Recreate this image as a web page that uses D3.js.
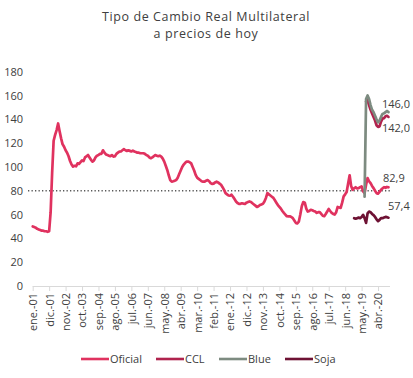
<!DOCTYPE html>
<html><head><meta charset="utf-8">
<script src="https://cdn.jsdelivr.net/npm/d3@7"></script>
<style>
body{margin:0;background:#fff;}
svg{display:block;font-family:"Open Sans",sans-serif;}
</style></head>
<body><svg id="c" width="413" height="378"></svg>
<script>
// Monthly series starting ene-01 (index 0 = Jan 2001)
const startYear = 2001;
const oficial = [50,49.5,49,48,47.5,47,46.5,46.5,46,46,45.5,46,
62,95,122,127,131,136.5,130,124,119,117,114,112,
109,105,102,100.3,101,100.5,103,102.5,104,105.5,105,108,
109,110,108,106,104.5,105.5,108,109.5,110,111,111,114,
112,110.5,110,109.5,109,110,108.7,109,111,112,112.9,113,
114,114.9,114,113.5,114,113.5,113,113.7,113,112.5,112,112,
111.5,111.5,111.5,111,110,109.5,108,107.3,108,109,110,109.5,
109,109.5,108.7,107,104.5,101,97.5,93,89,87.6,88,88.5,
89,91,94,97,100,102,103.5,104.5,104.5,104,103,100,
97,93.3,91,90,89,88,87.6,87.6,88.5,89,88,86.5,
85.7,86,87,87.6,87,86,85,83,80.7,78,77,76,
75.8,76.7,75,73,71,69.7,69,69,69.5,69.2,69,70,
70.5,71,70.6,69.5,68.5,67.5,66.4,67,68,68.5,69,71,
74,78,77,76,75,74,72,70,68,66.5,65,63,
61.4,60,58.6,58.5,58.5,58,57,55,53,52.5,54,60,
67,70.5,70,65,62.5,63,64,63.6,63,62.5,61.4,62,
62,60.5,59,58.6,60.5,62.5,64.7,63,61.4,60.5,60,62,
66.4,66,65.6,70,75.3,77,79,86,93,84,80.8,82,
83,82,82.2,83,83.6,79.4,78,85,90.6,88,86.4,84,
82.2,80,78,77.5,79,80.8,82,83,82.5,83.2,82.9];
const cclStart = 223;
const ccl = [155,156,152,148,145,142,139,135,133.6,134,138,140.6,141,142.5,143,142];
const blueStart = 222;
const blue = [75,157,160,157,152,148,146,143,140,137.5,139,142,144.5,145,146,147,146];
const sojaStart = 215;
const soja = [57,56.5,57,57.5,57,58,59.7,57,53,61,62.5,62,60.5,59.5,58,56,54.5,55.5,57,57,57.5,58,57.8,57.4];
const tickLabels = ["ene.-01","dic.-01","nov.-02","oct.-03","sep.-04","ago.-05","jul.-06","jun.-07","may.-08","abr.-09","mar.-10","feb.-11","ene.-12","dic.-12","nov.-13","oct.-14","sep.-15","ago.-16","jul.-17","jun.-18","may.-19","abr.-20"];
const tickEvery = 11;
const refValue = 80;
const yTicks = [0,20,40,60,80,100,120,140,160,180];
const seriesNames = ["Oficial","CCL","Blue","Soja"];
const seriesColors = ["#e0325f","#b0234d","#7d8b80","#6e1234"];
const endLabels = [
  {name:"Blue", text:"146,0"},
  {name:"CCL", text:"142,0"},
  {name:"Oficial", text:"82,9"},
  {name:"Soja", text:"57,4"}
];

const svg = d3.select("#c");
const x = d3.scaleLinear().domain([0, 239]).range([32.7, 390]);
const y = d3.scaleLinear().domain([0, 180]).range([286, 71.7]);

// title
svg.append("text").attr("x",206).attr("y",20.5).attr("text-anchor","middle")
  .attr("font-size",12.5).attr("letter-spacing",0.6).attr("fill","#404040").text("Tipo de Cambio Real Multilateral");
svg.append("text").attr("x",206).attr("y",37.5).attr("text-anchor","middle")
  .attr("font-size",12.5).attr("letter-spacing",0.6).attr("fill","#404040").text("a precios de hoy");

// y axis labels
const yAxis = d3.axisLeft(y).tickValues(yTicks).tickSize(0).tickPadding(0);
const yg = svg.append("g").attr("transform","translate(23,0)").call(yAxis);
yg.select(".domain").remove();
yg.selectAll("text").attr("font-size",11).attr("fill","#404040").attr("font-family","Open Sans, sans-serif");

// x axis
const tickIdx = tickLabels.map((d,i)=>i*tickEvery);
const xAxis = d3.axisBottom(x).tickValues(tickIdx).tickSize(5).tickFormat((d,i)=>tickLabels[i]);
const xg = svg.append("g").attr("transform","translate(0,286)").call(xAxis);
xg.select(".domain").attr("stroke","#d9d9d9").attr("d","M32.7,0.5H390");
xg.selectAll(".tick line").attr("stroke","#d9d9d9");
xg.selectAll("text").attr("font-size",11).attr("fill","#404040").attr("font-family","Open Sans, sans-serif")
  .attr("transform","rotate(-90)").attr("text-anchor","end").attr("dy","0.35em").attr("x",-7).attr("y",0);

// reference line at 80
svg.append("line").attr("x1",28).attr("x2",390).attr("y1",y(refValue)).attr("y2",y(refValue))
  .attr("stroke","#595959").attr("stroke-width",1.3).attr("stroke-dasharray","1.3,2.2");

const line = d3.line().x(d=>x(d[0])).y(d=>y(d[1]));
const seriesData = {
  Oficial: oficial.map((v,i)=>[i,v]),
  CCL: ccl.map((v,i)=>[cclStart+i,v]),
  Blue: blue.map((v,i)=>[blueStart+i,v]),
  Soja: soja.map((v,i)=>[sojaStart+i,v])
};
seriesNames.forEach((n,k)=>{
  svg.append("path").attr("d",line(seriesData[n])).attr("fill","none")
    .attr("stroke",seriesColors[k]).attr("stroke-width",2.7).attr("stroke-linejoin","round").attr("stroke-linecap","round");
});

// end labels
const labelPos = {Blue:[382,-8], CCL:[382,11], Oficial:[383,-9], Soja:[388,-12]};
endLabels.forEach(l=>{
  const arr = seriesData[l.name];
  const last = arr[arr.length-1];
  const p = labelPos[l.name];
  svg.append("text").attr("x",p[0]).attr("y",y(last[1])+p[1]).attr("dy","0.35em")
    .attr("font-size",11).attr("fill","#404040").text(l.text);
});

// legend
const legX = [81,156,219,285];
seriesNames.forEach((n,k)=>{
  const g = svg.append("g").attr("transform",`translate(${legX[k]},359)`);
  g.append("line").attr("x1",0).attr("x2",28).attr("stroke",seriesColors[k]).attr("stroke-width",2.6);
  g.append("text").attr("x",29).attr("dy","0.35em").attr("font-size",11).attr("fill","#404040").text(n);
});
</script></body></html>
